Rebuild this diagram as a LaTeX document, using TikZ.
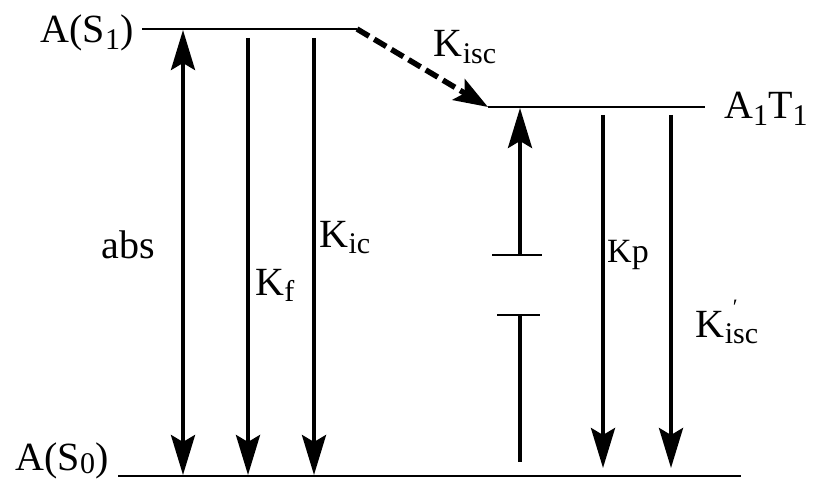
\documentclass[tikz,border=0pt]{standalone}
\usepackage{fontspec}
\setmainfont{Liberation Serif}
\usetikzlibrary{arrows.meta}
\newcommand{\sbx}[1]{\raisebox{-0.35ex}{\fontsize{30}{30}\selectfont #1}}
\newcommand{\sby}[1]{\raisebox{-0.2ex}{\fontsize{30}{30}\selectfont #1}}
\begin{document}
\begin{tikzpicture}[x=1pt,y=-1pt,
  level/.style={line width=2.6pt},
  trans/.style={line width=4pt,-{Stealth[length=40pt,width=24pt,inset=7pt]}},
  both/.style={line width=4pt,{Stealth[length=40pt,width=24pt,inset=7pt]}-{Stealth[length=40pt,width=24pt,inset=7pt]}},
  isc/.style={line width=5.5pt,dash pattern=on 14pt off 6pt,-{Stealth[length=34pt,width=24pt,inset=7pt]}},
  bar/.style={line width=2.8pt},
  stem/.style={line width=3.6pt},
  lbl/.style={font=\fontsize{40}{40}\selectfont,inner sep=0pt,anchor=base},
  small/.style={font=\fontsize{34}{34}\selectfont,inner sep=0pt,anchor=base}]
\useasboundingbox (0,0) rectangle (813,484);
% level end points
\coordinate (s1l) at (142,29);
\coordinate (s1r) at (357,29);
\coordinate (t1l) at (488,107);
\coordinate (t1r) at (705,107);
\coordinate (s0l) at (118,476);
\coordinate (s0r) at (741,476);
% levels
\draw[level] (s1l) -- (s1r);
\draw[level] (t1l) -- (t1r);
\draw[level] (s0l) -- (s0r);
% transition end points
\coordinate (absT) at (183,30);
\coordinate (absB) at (183,475);
\coordinate (kfT) at (248,38);
\coordinate (kfB) at (248,475);
\coordinate (kicT) at (314,38);
\coordinate (kicB) at (314,475);
\coordinate (upT) at (520,108);
\coordinate (upB) at (520,255);
\coordinate (b1l) at (492,255);
\coordinate (b1r) at (542,255);
\coordinate (b2l) at (497,315);
\coordinate (b2r) at (540,315);
\coordinate (dnT) at (520,315);
\coordinate (dnB) at (520,462);
\coordinate (kpT) at (603,115);
\coordinate (kpB) at (603,468);
\coordinate (kiT) at (671,115);
\coordinate (kiB) at (671,468);
% transitions
\draw[both] (absB) -- (absT);
\draw[trans] (kfT) -- (kfB);
\draw[trans] (kicT) -- (kicB);
\draw[isc] (s1r) -- (t1l);
\draw[trans] (upB) -- (upT);
\draw[bar] (b1l) -- (b1r);
\draw[bar] (b2l) -- (b2r);
\draw[stem] (dnT) -- (dnB);
\draw[trans] (kpT) -- (kpB);
\draw[trans] (kiT) -- (kiB);
% labels
\node[lbl] (ls1) at (87,43) {A(S\sbx{1})};
\node[lbl] (ls0) at (62,470) {A(S\sby{0})};
\node[lbl] (lt1) at (766,119) {A\sbx{1}T\sbx{1}};
\node[lbl] (lkisc) at (465,57) {K\sbx{isc}};
\node[lbl] (labs) at (128,258) {abs};
\node[lbl] (lkf) at (275,295) {K\sbx{f}};
\node[lbl] (lkic) at (345,247) {K\sbx{ic}};
\node[small] (lkp) at (628,262) {Kp};
\node[lbl] (lki2) at (727,337) {K\makebox[0pt][l]{\raisebox{1.2ex}{\fontsize{22}{22}\selectfont\kern8pt ′}}\sbx{isc}};
\end{tikzpicture}
\end{document}
